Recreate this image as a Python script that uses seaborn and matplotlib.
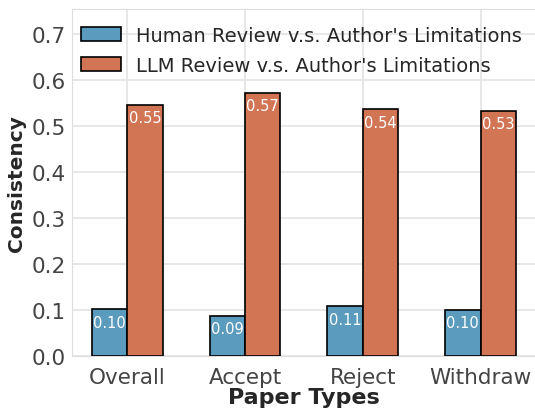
import matplotlib
matplotlib.use("Agg")
import matplotlib.pyplot as plt
import matplotlib.patches as mpatches
import seaborn as sns
import pandas as pd

categories = ["Overall", "Accept", "Reject", "Withdraw"]
series = ["Human Review v.s. Author's Limitations", "LLM Review v.s. Author's Limitations"]
human_vals = [0.102, 0.088, 0.109, 0.101]
llm_vals = [0.546, 0.572, 0.536, 0.533]
human_labels = ["0.10", "0.09", "0.11", "0.10"]
llm_labels = ["0.55", "0.57", "0.54", "0.53"]
colors = ["#5A9BBE", "#D27554"]

sns.set_style("whitegrid")
plt.rcParams['font.family'] = ['DejaVu Sans']

df = pd.DataFrame({
    "Paper Types": categories * 2,
    "Consistency": human_vals + llm_vals,
    "Series": [series[0]] * 4 + [series[1]] * 4,
})

fig = plt.figure(figsize=(5.35, 4.1), dpi=100)
ax = fig.add_axes([0.1346, 0.129, 0.867, 0.847])

sns.barplot(data=df, x="Paper Types", y="Consistency", hue="Series",
            palette=colors, saturation=1, width=0.6, edgecolor="black",
            linewidth=1.2, ax=ax, legend=False, zorder=3)

for cont, labs in zip(ax.containers, [human_labels, llm_labels]):
    ax.bar_label(cont, labels=labs, label_type="edge", padding=-15,
                 color="white", fontsize=10.5)

ax.set_ylim(0, 0.754)
ax.set_xlim(-0.47, 3.47)
ax.set_yticks([0.0, 0.1, 0.2, 0.3, 0.4, 0.5, 0.6, 0.7])
ax.grid(True, axis="both", color="#e3e3e3", linewidth=1.2, zorder=0)
ax.set_axisbelow(True)
ax.tick_params(axis="both", labelsize=15.5, colors="#444444")
ax.tick_params(axis="x", pad=4)
ax.tick_params(axis="y", pad=1)
ax.set_xlabel("Paper Types", fontsize=16, fontweight="bold", labelpad=0)
ax.set_ylabel("Consistency", fontsize=14.5, fontweight="bold", labelpad=4)
for s in ax.spines.values():
    s.set_color("#dddddd")

handles = [mpatches.Patch(facecolor=c, edgecolor="black", linewidth=1.2) for c in colors]
ax.legend(handles, series, loc="upper left", frameon=False, fontsize=14,
          bbox_to_anchor=(-0.01, 0.99), handlelength=2.05, handletextpad=0.8,
          labelspacing=0.55, borderaxespad=0.3)

fig.savefig("out.png", dpi=100)
